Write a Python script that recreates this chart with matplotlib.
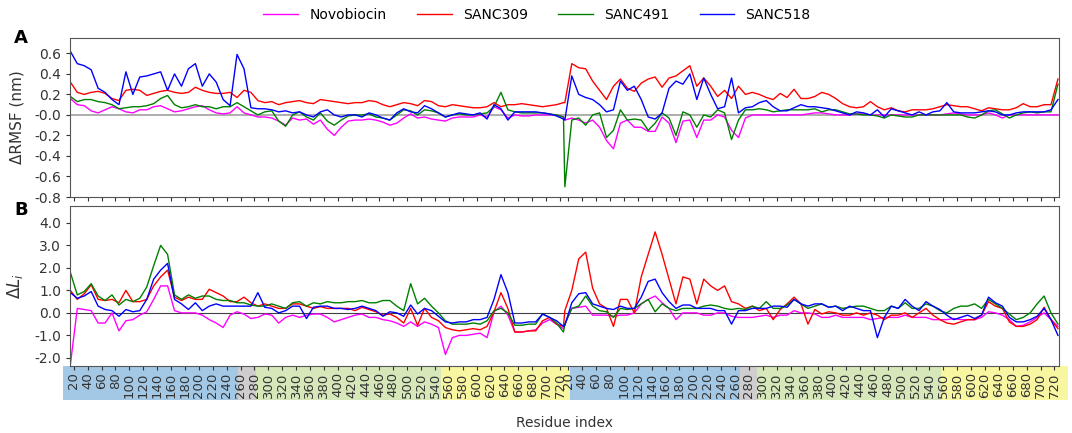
import numpy as np
import matplotlib.pyplot as plt

plt.rcParams['axes.unicode_minus'] = False
plt.rcParams['font.family'] = ['DejaVu Sans']

# each chain: residues 15..726, sampled every 10 residues
chain_len = 712
first_res = 15
sample_res = np.arange(15, 726, 10)
tick_residues = np.arange(20, 721, 20)

series_names = ['Novobiocin', 'SANC309', 'SANC491', 'SANC518']
series_colors = ['magenta', 'red', 'green', 'blue']

# --- panel A: delta RMSF (nm), chain 1 then chain 2 ---
rmsf_novobiocin = [
    0.16, 0.10, 0.09, 0.04, 0.02, 0.05, 0.08, 0.06, 0.03, 0.02, 0.05, 0.05, 0.08, 0.09, 0.06, 0.03, 0.04, 0.06,
    0.08, 0.09, 0.05, 0.02, 0.01, 0.02, 0.08, 0.02, 0.00, -0.02, -0.02, -0.03, -0.06, -0.10, -0.03, -0.05, -0.04, -0.09,
    -0.05, -0.14, -0.20, -0.12, -0.06, -0.05, -0.05, -0.04, -0.05, -0.07, -0.10, -0.08, -0.03, 0.01, -0.03, -0.02, -0.04, -0.05,
    -0.06, -0.03, -0.02, -0.02, -0.02, 0.00, -0.02, 0.08, 0.05, -0.03, 0.00, -0.01, -0.01, 0.00, 0.00, 0.00, 0.00, -0.02,
] + [
    -0.05, -0.03, -0.05, -0.08, -0.05, -0.12, -0.25, -0.33, -0.08, -0.05, -0.12, -0.12, -0.16, -0.16, -0.02, -0.08, -0.27, -0.06,
    -0.05, -0.22, -0.05, -0.05, 0.00, -0.02, -0.15, -0.22, -0.03, 0.00, 0.00, 0.00, 0.00, 0.00, 0.00, 0.00, 0.00, 0.01,
    0.02, 0.02, 0.01, 0.00, 0.00, 0.00, 0.01, 0.01, 0.00, 0.00, 0.00, 0.00, 0.00, 0.00, 0.00, 0.00, 0.00, 0.00,
    0.00, 0.01, 0.02, 0.01, 0.00, 0.00, 0.00, 0.02, 0.00, -0.03, 0.00, 0.00, 0.00, 0.00, 0.00, 0.00, 0.00, 0.00,
]
rmsf_sanc309 = [
    0.32, 0.22, 0.20, 0.22, 0.23, 0.21, 0.16, 0.14, 0.24, 0.25, 0.24, 0.19, 0.21, 0.23, 0.24, 0.22, 0.21, 0.22,
    0.27, 0.24, 0.22, 0.21, 0.21, 0.22, 0.17, 0.24, 0.22, 0.14, 0.12, 0.13, 0.10, 0.12, 0.13, 0.14, 0.12, 0.11,
    0.15, 0.14, 0.13, 0.12, 0.11, 0.12, 0.12, 0.14, 0.13, 0.10, 0.08, 0.10, 0.12, 0.11, 0.09, 0.14, 0.13, 0.09,
    0.08, 0.10, 0.09, 0.08, 0.07, 0.07, 0.08, 0.12, 0.08, 0.10, 0.10, 0.11, 0.10, 0.09, 0.08, 0.09, 0.10, 0.12,
] + [
    0.12, 0.50, 0.46, 0.45, 0.33, 0.24, 0.15, 0.28, 0.35, 0.26, 0.23, 0.31, 0.35, 0.37, 0.27, 0.36, 0.38, 0.43,
    0.48, 0.28, 0.36, 0.28, 0.18, 0.24, 0.16, 0.28, 0.20, 0.22, 0.20, 0.17, 0.15, 0.21, 0.17, 0.25, 0.16, 0.16,
    0.18, 0.22, 0.20, 0.16, 0.11, 0.08, 0.07, 0.08, 0.13, 0.08, 0.05, 0.07, 0.04, 0.03, 0.05, 0.05, 0.05, 0.06,
    0.08, 0.10, 0.09, 0.08, 0.08, 0.06, 0.04, 0.07, 0.06, 0.05, 0.05, 0.07, 0.11, 0.08, 0.08, 0.10, 0.10, 0.35,
]
rmsf_sanc491 = [
    0.18, 0.13, 0.15, 0.15, 0.13, 0.12, 0.10, 0.06, 0.07, 0.08, 0.08, 0.09, 0.11, 0.16, 0.19, 0.10, 0.07, 0.08,
    0.10, 0.08, 0.08, 0.06, 0.08, 0.08, 0.12, 0.08, 0.04, 0.00, 0.03, 0.04, -0.06, -0.11, 0.00, 0.03, -0.02, -0.05,
    0.02, -0.06, -0.10, -0.05, -0.01, 0.00, 0.00, 0.01, -0.02, -0.03, -0.05, 0.00, 0.05, 0.04, 0.00, 0.05, 0.04, 0.02,
    -0.02, 0.00, 0.01, 0.00, 0.00, 0.01, 0.02, 0.08, 0.22, 0.05, 0.03, 0.02, 0.02, 0.02, 0.02, 0.01, 0.00, -0.02,
] + [
    -0.70, -0.05, -0.03, -0.10, 0.00, 0.02, -0.22, -0.15, 0.05, -0.05, -0.04, -0.05, -0.15, -0.08, 0.02, -0.03, -0.20, 0.03,
    0.00, -0.12, 0.00, -0.02, 0.05, 0.02, -0.24, -0.05, 0.05, 0.05, 0.06, 0.05, 0.03, 0.04, 0.05, 0.05, 0.05, 0.05,
    0.06, 0.03, 0.05, 0.05, 0.03, 0.01, 0.01, 0.00, 0.00, -0.01, -0.03, 0.00, -0.01, -0.02, -0.02, 0.00, 0.00, 0.00,
    0.00, 0.00, 0.00, 0.00, -0.02, -0.03, 0.00, 0.04, 0.05, 0.01, -0.03, 0.00, 0.02, 0.03, 0.02, 0.03, 0.03, 0.30,
]
rmsf_sanc518 = [
    0.62, 0.50, 0.48, 0.44, 0.26, 0.22, 0.15, 0.10, 0.42, 0.20, 0.37, 0.38, 0.40, 0.42, 0.24, 0.40, 0.28, 0.45,
    0.50, 0.28, 0.40, 0.32, 0.15, 0.09, 0.59, 0.45, 0.07, 0.06, 0.06, 0.05, 0.03, 0.04, 0.02, 0.03, 0.00, -0.02,
    0.03, 0.05, 0.00, -0.02, 0.00, 0.00, -0.02, 0.02, 0.00, -0.03, -0.05, 0.02, 0.06, 0.03, 0.02, 0.09, 0.06, 0.02,
    -0.02, 0.00, 0.02, 0.01, 0.00, 0.02, -0.04, 0.10, 0.06, -0.05, 0.03, 0.03, 0.03, 0.03, 0.02, 0.01, -0.01, -0.04,
] + [
    -0.05, 0.38, 0.20, 0.17, 0.15, 0.10, 0.03, 0.05, 0.33, 0.24, 0.28, 0.15, -0.02, -0.04, 0.02, 0.26, 0.33, 0.30,
    0.40, 0.15, 0.36, 0.20, 0.06, 0.08, 0.36, 0.02, 0.07, 0.08, 0.12, 0.14, 0.08, 0.04, 0.04, 0.07, 0.10, 0.08,
    0.08, 0.07, 0.06, 0.04, 0.02, 0.00, 0.03, 0.02, 0.00, 0.05, -0.02, 0.06, 0.04, 0.02, 0.00, 0.03, 0.00, 0.03,
    0.04, 0.12, 0.03, 0.02, 0.02, 0.02, 0.03, 0.04, 0.03, 0.00, 0.00, 0.02, 0.03, 0.03, 0.03, 0.03, 0.05, 0.15,
]

# --- panel B: delta L_i, chain 1 then chain 2 ---
dl_novobiocin = [
    -2.3, 0.2, 0.15, 0.1, -0.45, -0.45, 0.0, -0.8, -0.35, -0.3, -0.1, 0.05, 0.6, 1.2, 1.2, 0.1, 0.0, 0.0,
    0.0, -0.1, -0.3, -0.45, -0.65, -0.1, 0.05, -0.05, -0.25, -0.2, -0.05, -0.1, -0.45, -0.2, -0.1, -0.2, -0.1, -0.05,
    -0.05, -0.2, -0.4, -0.3, -0.2, -0.1, -0.05, -0.2, -0.2, -0.3, -0.35, -0.45, -0.6, -0.4, -0.6, -0.4, -0.5, -0.65,
    -1.85, -1.1, -1.0, -1.0, -0.95, -0.9, -1.1, 0.05, 0.3, -0.1, -0.85, -0.85, -0.8, -0.75, -0.45, -0.3, -0.5, -0.7,
] + [
    -0.5, 0.2, 0.25, 0.3, -0.1, -0.1, -0.1, -0.15, -0.1, -0.1, 0.0, 0.4, 0.6, 0.75, 0.45, 0.2, -0.3, 0.0,
    0.0, 0.0, -0.1, -0.1, 0.0, 0.0, -0.15, -0.2, -0.2, -0.2, -0.15, -0.1, -0.2, -0.1, -0.1, 0.1, 0.0, 0.0,
    -0.05, -0.2, -0.2, -0.1, -0.2, -0.2, -0.2, -0.2, -0.3, -0.25, -0.2, -0.2, -0.2, -0.1, -0.2, -0.2, -0.2, -0.3,
    -0.3, -0.3, -0.25, -0.3, -0.3, -0.3, -0.2, 0.05, 0.0, -0.1, -0.3, -0.6, -0.55, -0.4, -0.2, 0.0, -0.3, -0.6,
]
dl_sanc309 = [
    1.0, 0.6, 0.85, 1.25, 0.6, 0.55, 0.6, 0.45, 1.0, 0.5, 0.5, 0.6, 1.2, 1.6, 1.9, 0.7, 0.55, 0.7,
    0.6, 0.6, 1.05, 0.9, 0.75, 0.5, 0.5, 0.7, 0.45, 0.3, 0.4, 0.3, 0.2, 0.2, 0.4, 0.4, 0.3, 0.2,
    0.28, 0.2, 0.2, 0.2, 0.2, 0.1, 0.25, 0.15, 0.05, -0.1, -0.05, -0.2, -0.45, 0.2, -0.55, 0.2, -0.2, -0.35,
    -0.65, -0.75, -0.8, -0.75, -0.7, -0.75, -0.6, 0.05, 0.9, 0.2, -0.85, -0.85, -0.8, -0.8, -0.35, -0.2, -0.5, -0.6,
] + [
    0.1, 1.0, 2.4, 2.7, 1.1, 0.4, 0.2, -0.6, 0.6, 0.6, 0.0, 1.6, 2.6, 3.6, 2.6, 1.5, 0.4, 1.6,
    1.5, 0.4, 1.5, 1.2, 1.0, 1.2, 0.5, 0.4, 0.2, 0.3, 0.1, 0.2, -0.3, 0.15, 0.4, 0.7, 0.4, -0.5,
    0.15, -0.05, 0.05, 0.0, -0.1, -0.1, 0.0, -0.1, 0.0, -0.1, -0.3, -0.1, -0.1, 0.0, -0.2, 0.0, 0.2, -0.1,
    -0.3, -0.45, -0.5, -0.4, -0.3, -0.3, -0.1, 0.5, 0.3, 0.2, -0.4, -0.6, -0.6, -0.5, -0.3, 0.25, -0.3, -0.7,
]
dl_sanc491 = [
    1.8, 0.8, 0.95, 1.3, 0.75, 0.55, 0.8, 0.35, 0.6, 0.5, 0.65, 1.15, 2.1, 3.0, 2.6, 0.8, 0.6, 0.8,
    0.65, 0.75, 0.75, 0.6, 0.55, 0.55, 0.45, 0.45, 0.35, 0.3, 0.3, 0.4, 0.3, 0.2, 0.45, 0.5, 0.3, 0.45,
    0.4, 0.5, 0.45, 0.45, 0.5, 0.5, 0.55, 0.45, 0.45, 0.55, 0.55, 0.3, 0.1, 1.3, 0.4, 0.65, 0.3, 0.0,
    -0.35, -0.5, -0.5, -0.5, -0.45, -0.5, -0.35, 0.1, 0.2, 0.0, -0.55, -0.55, -0.5, -0.5, -0.05, -0.2, -0.45, -0.85,
] + [
    -0.5, 0.2, 0.3, 0.75, 0.3, 0.1, 0.05, -0.2, 0.2, 0.15, 0.2, 0.4, 0.6, 0.05, 0.4, 0.2, 0.1, 0.2,
    0.2, 0.2, 0.3, 0.35, 0.3, 0.2, 0.15, 0.2, 0.15, 0.3, 0.2, 0.5, 0.2, 0.2, 0.35, 0.6, 0.4, 0.2,
    0.3, 0.4, 0.25, 0.3, 0.2, 0.25, 0.3, 0.3, 0.2, 0.1, 0.1, 0.3, 0.2, 0.45, 0.2, 0.2, 0.4, 0.3,
    0.1, 0.0, 0.2, 0.3, 0.3, 0.4, 0.2, 0.6, 0.4, 0.2, -0.05, -0.3, -0.2, 0.0, 0.4, 0.75, 0.0, -0.5,
]
dl_sanc518 = [
    0.9, 0.65, 0.75, 0.95, 0.3, 0.15, 0.1, -0.15, 0.15, 0.05, 0.1, 0.6, 1.5, 1.9, 2.2, 0.6, 0.4, 0.15,
    0.45, 0.1, 0.3, 0.4, 0.3, 0.3, 0.3, 0.3, 0.3, 0.9, 0.25, 0.2, 0.0, 0.1, 0.3, 0.3, -0.25, 0.25,
    0.3, 0.3, 0.2, 0.2, 0.15, 0.2, 0.3, 0.2, 0.1, -0.15, 0.05, 0.0, -0.15, 0.35, -0.05, 0.2, 0.1, -0.15,
    -0.4, -0.45, -0.4, -0.4, -0.3, -0.3, -0.2, 0.6, 1.7, 0.9, -0.45, -0.45, -0.4, -0.4, -0.05, -0.2, -0.35, -0.6,
] + [
    -0.55, 0.45, 0.85, 0.9, 0.4, 0.3, 0.2, 0.15, 0.3, 0.2, 0.2, 0.7, 1.4, 1.5, 0.9, 0.5, 0.2, 0.35,
    0.35, 0.2, 0.2, 0.2, 0.1, 0.1, -0.5, 0.1, 0.1, 0.2, 0.2, 0.2, 0.3, 0.3, 0.25, 0.6, 0.4, 0.3,
    0.4, 0.4, 0.25, 0.3, 0.1, 0.3, 0.2, 0.1, 0.1, -1.1, -0.2, 0.3, 0.2, 0.6, 0.3, 0.1, 0.5, 0.3,
    0.15, -0.1, -0.3, -0.2, -0.1, -0.25, -0.1, 0.7, 0.45, 0.3, -0.2, -0.4, -0.4, -0.3, -0.15, 0.2, -0.3, -1.0,
]

# domain colour band under the tick labels (residue ranges per chain)
band_chain1 = [(5, 257, '#a3c8e6'), (257, 283, '#cfcdcd'), (283, 548, '#d6e8ba'), (548, 726, '#f8f6a0')]
band_chain2 = [(14, 23, '#f8f6a0'), (23, 267, '#a3c8e6'), (267, 291, '#cfcdcd'), (291, 556, '#d6e8ba'),
               (556, 740, '#f8f6a0')]


def to_index(res, chain):
    return np.asarray(res) - first_res + chain * chain_len


x = np.concatenate([to_index(sample_res, 0), to_index(sample_res, 1)])
xlim = (-0.5, 2 * chain_len - 0.5)

fig = plt.figure(figsize=(10.72, 4.33), dpi=100)
ax_a = fig.add_axes([70 / 1072, 1 - 197 / 433, 989 / 1072, 159 / 433])
ax_b = fig.add_axes([70 / 1072, 1 - 366 / 433, 989 / 1072, 160 / 433])

rmsf = [rmsf_novobiocin, rmsf_sanc309, rmsf_sanc491, rmsf_sanc518]
dl = [dl_novobiocin, dl_sanc309, dl_sanc491, dl_sanc518]

handles = []
for name, col, ya, yb in zip(series_names, series_colors, rmsf, dl):
    h, = ax_a.plot(x, ya, color=col, lw=1.0, label=name)
    ax_b.plot(x, yb, color=col, lw=1.0)
    handles.append(h)

ax_a.axhline(0, color='#a0a0a0', lw=1.2, zorder=0)
ax_b.axhline(0, color='#404040', lw=0.8, zorder=0)

ticks = np.concatenate([to_index(tick_residues, 0), to_index(tick_residues, 1)])
tick_labels = [str(r) for r in tick_residues] * 2

for ax in (ax_a, ax_b):
    ax.set_xticks(ticks)
    ax.tick_params(axis='both', length=3, width=0.8, labelsize=10, colors='#333333')
    for sp in ax.spines.values():
        sp.set_color('#555555')

ax_a.set_xticklabels([])
ax_b.set_xticklabels(tick_labels, rotation=90, fontsize=9.5, color='#333333')
ax_b.tick_params(axis='x', pad=1.5)

for chain, bands in enumerate([band_chain1, band_chain2]):
    for r0, r1, col in bands:
        span = ax_b.axvspan(to_index(r0, chain), to_index(r1, chain), ymin=-0.215, ymax=0,
                            color=col, lw=0, zorder=0)
        span.set_clip_on(False)

ax_a.set_xlim(*xlim)
ax_b.set_xlim(*xlim)

ax_a.set_ylim(-0.8, 0.75)
ax_a.set_yticks(np.arange(-0.8, 0.61, 0.2))
ax_a.set_yticklabels(['%.1f' % v for v in np.arange(-0.8, 0.61, 0.2)])
ax_b.set_ylim(-2.36, 4.75)
ax_b.set_yticks(np.arange(-2, 4.1, 1))
ax_b.set_yticklabels(['%.1f' % v for v in np.arange(-2, 4.1, 1)])

ax_a.set_ylabel('ΔRMSF (nm)', fontsize=11, color='#333333')
ax_b.set_ylabel(r'$\Delta L_i$', fontsize=12, color='#333333')
ax_a.yaxis.set_label_coords(-0.046, 0.5)
ax_b.yaxis.set_label_coords(-0.046, 0.5)

fig.text(14 / 1072, 1 - 38 / 433, 'A', fontsize=13, fontweight='bold', va='center')
fig.text(14 / 1072, 1 - 210 / 433, 'B', fontsize=13, fontweight='bold', va='center')
fig.text(565 / 1072, 1 - 423 / 433, 'Residue index', fontsize=10, ha='center', va='center', color='#333333')

fig.legend(handles=handles, loc='center', bbox_to_anchor=(537 / 1072, 1 - 15 / 433), ncol=4,
           frameon=False, fontsize=10, handlelength=2.5, columnspacing=2.2)

fig.savefig('out.png', dpi=100)
